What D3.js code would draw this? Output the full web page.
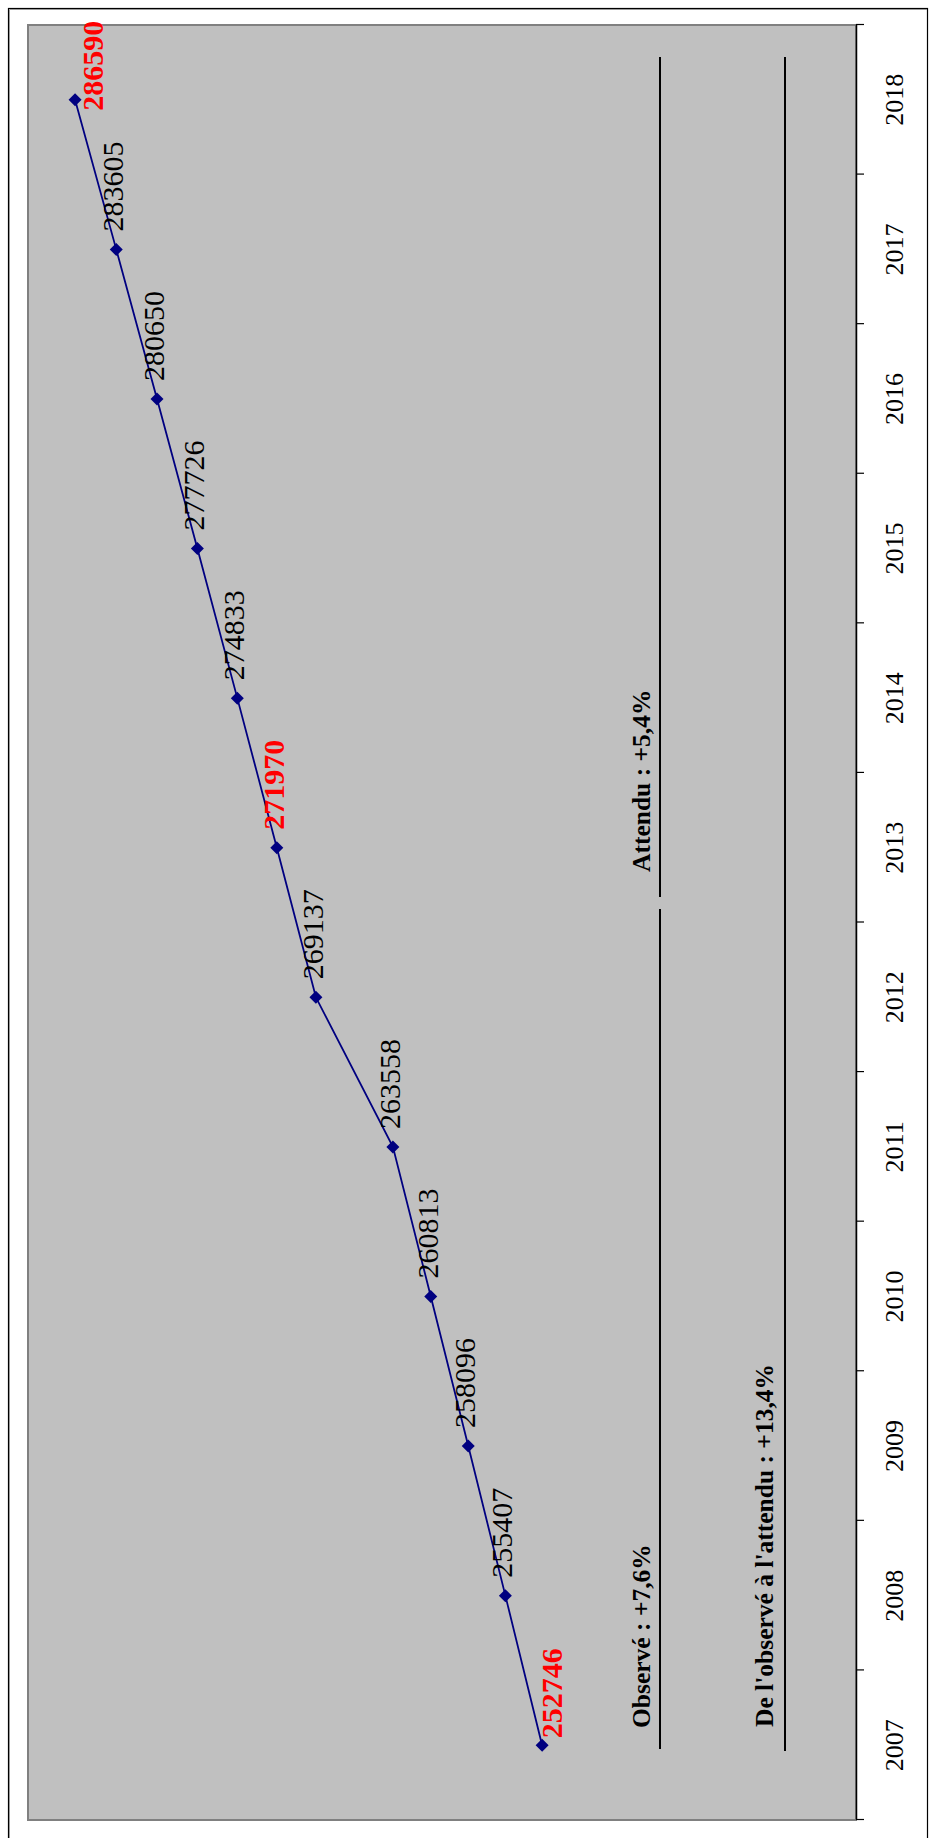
<!DOCTYPE html>
<html>
<head>
<meta charset="utf-8">
<script src="https://cdn.jsdelivr.net/npm/d3@7"></script>
<style>
  html, body { margin: 0; padding: 0; background: #fff; }
  svg { display: block; }
</style>
</head>
<body>
<script>
// ---- data ----
const years = [2007, 2008, 2009, 2010, 2011, 2012, 2013, 2014, 2015, 2016, 2017, 2018];
const values = [252746, 255407, 258096, 260813, 263558, 269137, 271970, 274833, 277726, 280650, 283605, 286590];
const highlightedYears = [2007, 2013, 2018];
const valueDomain = [230000, 290000];
const annotationTexts = ["Observé : +7,6%", "Attendu : +5,4%", "De l'observé à l'attendu : +13,4%"];

// ---- layout (screen) ----
const width = 933, height = 1838;
const plotLeft = 28, plotRight = 856, plotTop = 25, plotBottom = 1820;
// the chart is drawn in an unrotated frame, then turned -90deg
const W = plotBottom - plotTop;   // category direction
const H = plotRight - plotLeft;   // value direction

const svg = d3.select("body").append("svg")
  .attr("width", width).attr("height", height);

// outer chart border
svg.append("rect")
  .attr("x", 8.5).attr("y", 8.5)
  .attr("width", 919).attr("height", 1860)
  .attr("fill", "#fff").attr("stroke", "#000").attr("stroke-width", 1.2);
svg.append("path")
  .attr("d", `M9.5,1870V9.5H927`)
  .attr("fill", "none").attr("stroke", "#9a9a9a").attr("stroke-width", 1);

const g = svg.append("g")
  .attr("transform", `translate(${plotLeft},${plotBottom}) rotate(-90)`);

const x = d3.scaleBand().domain(years).range([0, W]);
const xc = yr => x(yr) + x.bandwidth() / 2;
const y = d3.scaleLinear().domain(valueDomain).range([H, 0]);

// plot area
g.append("rect")
  .attr("x", 0).attr("y", 0).attr("width", W).attr("height", H)
  .attr("fill", "#c0c0c0").attr("stroke", "#808080").attr("stroke-width", 2);

// category axis (ticks between categories)
const tickScale = d3.scaleLinear().domain([0, years.length]).range([0, W]);
const tickAxis = g.append("g").attr("transform", `translate(0,${H})`)
  .call(d3.axisBottom(tickScale)
    .tickValues(d3.range(0, years.length + 1))
    .tickSize(8).tickSizeOuter(0).tickFormat(""));
tickAxis.select(".domain").attr("stroke", "#000").attr("stroke-width", 1.5);
tickAxis.selectAll(".tick line").attr("stroke", "#000").attr("stroke-width", 1.2);

const labelAxis = g.append("g").attr("transform", `translate(0,${H})`)
  .call(d3.axisBottom(x).tickSize(0).tickPadding(28.5));
labelAxis.select(".domain").remove();
labelAxis.selectAll("text")
  .attr("font-family", "'Liberation Serif', 'Times New Roman', serif")
  .attr("font-size", 26).attr("fill", "#000");

// annotation lines
const annLines = [
  { x1: 71, x2: 911, y: 632 },
  { x1: 923, x2: 1763, y: 632 },
  { x1: 69, x2: 1763, y: 757 }
];
g.selectAll(".ann-line").data(annLines).join("line")
  .attr("x1", d => d.x1).attr("x2", d => d.x2)
  .attr("y1", d => d.y).attr("y2", d => d.y)
  .attr("stroke", "#000").attr("stroke-width", 2);

const annPos = [
  { x: 92, y: 622 },
  { x: 948, y: 622 },
  { x: 93, y: 745 }
];
g.selectAll(".ann-text").data(annotationTexts).join("text")
  .attr("x", (d, i) => annPos[i].x).attr("y", (d, i) => annPos[i].y)
  .attr("font-family", "'Liberation Serif', 'Times New Roman', serif")
  .attr("font-weight", "bold").attr("font-size", 25.5).attr("fill", "#000")
  .text(d => d);

// series
const data = years.map((yr, i) => ({ year: yr, value: values[i] }));
g.append("path").datum(data)
  .attr("d", d3.line().x(d => xc(d.year)).y(d => y(d.value)))
  .attr("fill", "none").attr("stroke", "#000080").attr("stroke-width", 1.8);

const r = 6.5;
g.selectAll(".marker").data(data).join("path")
  .attr("transform", d => `translate(${xc(d.year)},${y(d.value)})`)
  .attr("d", `M0,${-r}L${r},0L0,${r}L${-r},0Z`)
  .attr("fill", "#000080");

// data labels
const labelNudge = { 2007: { dx: -11, dy: 13 }, 2018: { dx: -29, dy: 21 } };
g.selectAll(".dlabel").data(data).join("text")
  .attr("x", d => xc(d.year) + 18 + (labelNudge[d.year] ? labelNudge[d.year].dx : 0))
  .attr("y", d => y(d.value) + 7 + (labelNudge[d.year] ? labelNudge[d.year].dy : 0))
  .attr("font-family", "'Liberation Serif', 'Times New Roman', serif")
  .attr("font-size", 30)
  .attr("font-weight", d => highlightedYears.includes(d.year) ? "bold" : "normal")
  .attr("fill", d => highlightedYears.includes(d.year) ? "#ff0000" : "#000")
  .text(d => d.value);
</script>
</body>
</html>
